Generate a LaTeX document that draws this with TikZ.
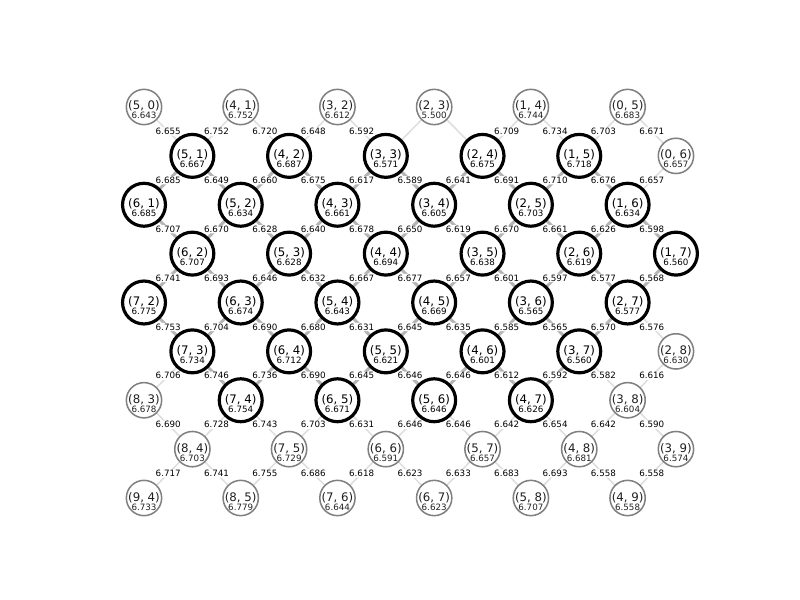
\documentclass[tikz,border=0pt]{standalone}
\usepackage{fontspec}
\setmainfont{DejaVu Sans}
\usetikzlibrary{calc}
\pgfdeclarelayer{bg}
\pgfsetlayers{bg,main}
\definecolor{hiedge}{HTML}{B5B5B5}
\definecolor{loedge}{HTML}{DEDEDE}
\definecolor{thinring}{HTML}{808080}
\definecolor{thintext}{HTML}{202020}
\tikzset{
  pthick/.style={circle, draw=black, line width=2.3pt, fill=white, minimum size=31pt, inner sep=0pt},
  pthin/.style={circle, draw=thinring, line width=1.1pt, fill=white, minimum size=25.5pt, inner sep=0pt},
  ehi/.style={draw=hiedge, line width=2.2pt},
  elo/.style={draw=loedge, line width=1.1pt},
  plabel/.style={anchor=base, inner sep=0pt, font=\fontsize{8.5}{9}\selectfont},
  pvalue/.style={anchor=base, inner sep=0pt, font=\fontsize{6.3}{7}\selectfont},
  elabel/.style={fill=white, inner sep=0.6pt, rounded corners=1pt, font=\fontsize{6.3}{7}\selectfont},
}
\newcommand\mkedge[4]{%
  \pgfmathtruncatemacro\eca{ifthenelse(mod(#3+#2,2)==0,#3,#3+1)}%
  \pgfmathtruncatemacro\ecb{2*#3+1-\eca}%
  \pgfmathtruncatemacro\erb{#2+1}%
  \begin{pgfonlayer}{bg}\draw[#1] (n-\eca-#2) -- (n-\ecb-\erb);\end{pgfonlayer}%
  \node[elabel] (e-#2-#3) at ($(n-\eca-#2.center)!0.5!(n-\ecb-\erb.center)$) {#4};}
\newcommand\mkbare[3]{%
  \pgfmathtruncatemacro\eca{ifthenelse(mod(#3+#2,2)==0,#3,#3+1)}%
  \pgfmathtruncatemacro\ecb{2*#3+1-\eca}%
  \pgfmathtruncatemacro\erb{#2+1}%
  \begin{pgfonlayer}{bg}\draw[#1] (n-\eca-#2) -- (n-\ecb-\erb);\end{pgfonlayer}}
\begin{document}
\begin{tikzpicture}[x=0.01in, y=-0.01in]
\useasboundingbox (0,0) rectangle (800,600);
% thick nodes
\foreach \c/\r/\a/\b/\v in {
1/1/5/1/6.667, 3/1/4/2/6.687, 5/1/3/3/6.571, 7/1/2/4/6.675, 9/1/1/5/6.718,
0/2/6/1/6.685, 2/2/5/2/6.634, 4/2/4/3/6.661, 6/2/3/4/6.605, 8/2/2/5/6.703, 10/2/1/6/6.634,
1/3/6/2/6.707, 3/3/5/3/6.628, 5/3/4/4/6.694, 7/3/3/5/6.638, 9/3/2/6/6.619, 11/3/1/7/6.560,
0/4/7/2/6.775, 2/4/6/3/6.674, 4/4/5/4/6.643, 6/4/4/5/6.669, 8/4/3/6/6.565, 10/4/2/7/6.577,
1/5/7/3/6.734, 3/5/6/4/6.712, 5/5/5/5/6.621, 7/5/4/6/6.601, 9/5/3/7/6.560,
2/6/7/4/6.754, 4/6/6/5/6.671, 6/6/5/6/6.646, 8/6/4/7/6.626}{
  \pgfmathsetmacro\px{144+48.36*\c}
  \pgfmathsetmacro\py{107+48.875*\r}
  \node[pthick] (n-\c-\r) at (\px,\py) {};
  \node[plabel] (l-\c-\r) at (\px,\py+3) {(\a, \b)};
  \node[pvalue] (v-\c-\r) at (\px,\py+12) {\v};
}
% thin nodes
\foreach \c/\r/\a/\b/\v in {
0/0/5/0/6.643, 2/0/4/1/6.752, 4/0/3/2/6.612, 6/0/2/3/5.500, 8/0/1/4/6.744, 10/0/0/5/6.683,
11/1/0/6/6.657, 11/5/2/8/6.630, 0/6/8/3/6.678, 10/6/3/8/6.604,
1/7/8/4/6.703, 3/7/7/5/6.729, 5/7/6/6/6.591, 7/7/5/7/6.657, 9/7/4/8/6.681, 11/7/3/9/6.574,
0/8/9/4/6.733, 2/8/8/5/6.779, 4/8/7/6/6.644, 6/8/6/7/6.623, 8/8/5/8/6.707, 10/8/4/9/6.558}{
  \pgfmathsetmacro\px{144+48.36*\c}
  \pgfmathsetmacro\py{107+48.875*\r}
  \node[pthin] (n-\c-\r) at (\px,\py) {};
  \node[plabel, text=thintext] (l-\c-\r) at (\px,\py+3) {(\a, \b)};
  \node[pvalue, text=thintext] (v-\c-\r) at (\px,\py+12) {\v};
}
% edges between visited nodes
\foreach \r/\k/\lab in {
1/0/6.685, 1/1/6.649, 1/2/6.660, 1/3/6.675, 1/4/6.617, 1/5/6.589, 1/6/6.641, 1/7/6.691, 1/8/6.710, 1/9/6.676,
2/0/6.707, 2/1/6.670, 2/2/6.628, 2/3/6.640, 2/4/6.678, 2/5/6.650, 2/6/6.619, 2/7/6.670, 2/8/6.661, 2/9/6.626, 2/10/6.598,
3/0/6.741, 3/1/6.693, 3/2/6.646, 3/3/6.632, 3/4/6.667, 3/5/6.677, 3/6/6.657, 3/7/6.601, 3/8/6.597, 3/9/6.577, 3/10/6.568,
4/0/6.753, 4/1/6.704, 4/2/6.690, 4/3/6.680, 4/4/6.631, 4/5/6.645, 4/6/6.635, 4/7/6.585, 4/8/6.565, 4/9/6.570,
5/1/6.746, 5/2/6.736, 5/3/6.690, 5/4/6.645, 5/5/6.646, 5/6/6.646, 5/7/6.612, 5/8/6.592}{
  \mkedge{ehi}{\r}{\k}{\lab}
}
% other edges
\foreach \r/\k/\lab in {
0/0/6.655, 0/1/6.752, 0/2/6.720, 0/3/6.648, 0/4/6.592, 0/7/6.709, 0/8/6.734, 0/9/6.703, 0/10/6.671,
1/10/6.657, 4/10/6.576, 5/0/6.706, 5/9/6.582, 5/10/6.616,
6/0/6.690, 6/1/6.728, 6/2/6.743, 6/3/6.703, 6/4/6.631, 6/5/6.646, 6/6/6.646, 6/7/6.642, 6/8/6.654, 6/9/6.642, 6/10/6.590,
7/0/6.717, 7/1/6.741, 7/2/6.755, 7/3/6.686, 7/4/6.618, 7/5/6.623, 7/6/6.633, 7/7/6.683, 7/8/6.693, 7/9/6.558, 7/10/6.558}{
  \mkedge{elo}{\r}{\k}{\lab}
}
\foreach \r/\k in {0/5, 0/6}{
  \mkbare{elo}{\r}{\k}
}
\end{tikzpicture}
\end{document}
